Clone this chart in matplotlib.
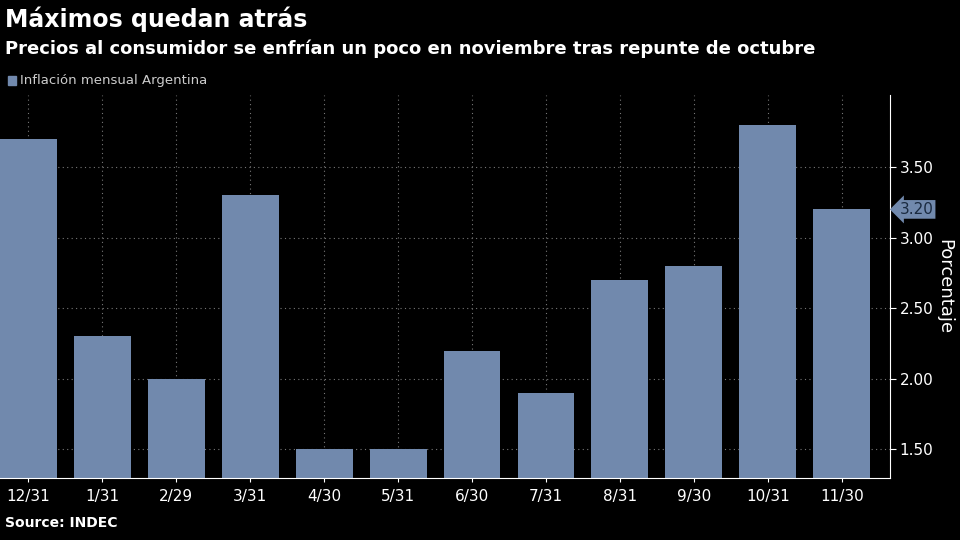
import matplotlib
matplotlib.use("Agg")
import matplotlib.pyplot as plt

categories = ["12/31","1/31","2/29","3/31","4/30","5/31","6/30","7/31","8/31","9/30","10/31","11/30"]
values = [3.7, 2.3, 2.0, 3.3, 1.5, 1.5, 2.2, 1.9, 2.7, 2.8, 3.8, 3.2]
yticks = [1.5, 2.0, 2.5, 3.0, 3.5]
last_label = "3.20"

bg = "black"
barc = "#7189ad"
fig = plt.figure(figsize=(9.6, 5.4), dpi=100, facecolor=bg)
ax = fig.add_axes([0.0, 1-478/540, 890/960, (478-95)/540], facecolor=bg)
x = list(range(len(categories)))
ax.bar(x, values, width=0.77, color=barc, zorder=2)
ax.set_xlim(-0.38, 11.65)
ax.set_ylim(1.298, 4.01)
ax.set_xticks(x)
ax.set_xticklabels(categories, color="white", fontsize=11)
ax.yaxis.tick_right()
ax.yaxis.set_label_position("right")
ax.set_yticks(yticks)
ax.set_yticklabels([f"{v:.2f}" for v in yticks], color="white", fontsize=11)
ax.set_ylabel("Porcentaje", color="white", fontsize=13, rotation=270, labelpad=14)
ax.grid(True, color="#777777", linestyle=(0, (1, 3)), linewidth=0.8, zorder=0)
for s in ["top", "left"]:
    ax.spines[s].set_visible(False)
ax.spines["right"].set_color("white")
ax.spines["bottom"].set_color("white")
ax.tick_params(axis="x", colors="white", length=3, pad=5)
ax.tick_params(axis="y", colors="white", length=4, pad=3)
ax.annotate(last_label, xy=(1.0, values[-1]), xycoords=("axes fraction", "data"),
            xytext=(7, 0), textcoords="offset points", va="center", ha="left",
            color="#1a2a40", fontsize=11,
            bbox=dict(boxstyle="larrow,pad=0.12", fc=barc, ec="none"))

fig.text(0.005, 0.965, "Máximos quedan atrás", color="white", fontsize=17, fontweight="bold", va="center")
fig.text(0.005, 0.91, "Precios al consumidor se enfrían un poco en noviembre tras repunte de octubre",
         color="white", fontsize=13, fontweight="bold", va="center")
fig.patches.append(matplotlib.patches.Rectangle((0.008, 0.843), 0.009, 0.017, color=barc, transform=fig.transFigure))
fig.text(0.021, 0.851, "Inflación mensual Argentina", color="#cccccc", fontsize=9.5, va="center")
fig.text(0.005, 0.018, "Source: INDEC", color="white", fontsize=10, fontweight="bold", va="bottom")
fig.savefig("out.png", dpi=100, facecolor=bg)
